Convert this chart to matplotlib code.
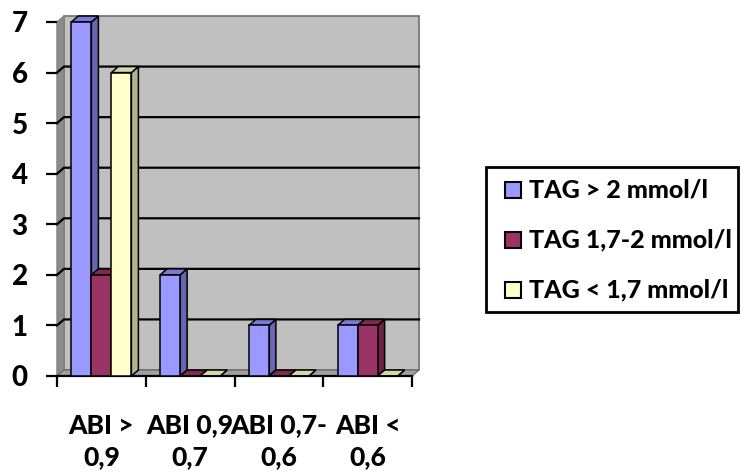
import matplotlib.pyplot as plt
from matplotlib.patches import Rectangle

# ABI groups on the x axis, three TAG series per group
categories = ["ABI >\n0,9", "ABI 0,9\n0,7", "ABI 0,7-\n0,6", "ABI <\n0,6"]
series_names = ["TAG > 2 mmol/l", "TAG 1,7-2 mmol/l", "TAG < 1,7 mmol/l"]
tag_high = [7, 2, 1, 1]
tag_mid = [2, 0, 0, 1]
tag_low = [6, 0, 0, 0]
y_ticks = [0, 1, 2, 3, 4, 5, 6, 7]

front_colors = ["#9999FF", "#993366", "#FFFFCC"]
side_colors = ["#6666B3", "#6B2447", "#B3B38F"]
top_colors = ["#7A7AD6", "#80294F", "#D6D6AB"]

plt.rcParams['font.family'] = ['Lato', 'DejaVu Sans']
WEIGHT = 900

W, H = 743, 474
fig = plt.figure(figsize=(W / 100, H / 100), dpi=100)
ax = fig.add_axes([57 / W, 98 / H, 355 / W, 354 / H])
ax.set_xlim(0, len(categories))
ax.set_ylim(0, 7)

# depth of the pseudo-3D box, in data units
px_x = 355 / len(categories)
px_y = 354 / 7
dx = 7 / px_x
dy = 6 / px_y
ymax = 7
ncat = len(categories)

# back wall, side wall and floor
ax.fill([dx, ncat + dx, ncat + dx, dx], [dy, dy, ymax + dy, ymax + dy],
        color="#C0C0C0", ec="#707070", lw=1.2, zorder=0, clip_on=False)
ax.fill([0, dx, dx, 0], [0, dy, ymax + dy, ymax], color="#8C8C8C",
        ec="#808080", lw=1, zorder=0.5, clip_on=False)
ax.fill([0, ncat, ncat + dx, dx], [0, 0, dy, dy], color="#A0A0A0",
        ec="#6E6E6E", lw=1, zorder=0.5, clip_on=False)
for v in y_ticks[1:-1]:
    ax.plot([0, dx, ncat + dx], [v, v + dy, v + dy], color="black",
            lw=1.6, zorder=0.6, clip_on=False)
ax.plot([0, ncat], [0, 0], color="black", lw=1.6, zorder=0.7, clip_on=False)

# bars: top and side faces first, then the front face
series = [tag_high, tag_mid, tag_low]
bw = 20 / px_x
offset = (1 - 3 * bw) / 2
z = 1
for i in range(ncat):
    for j, vals in enumerate(series):
        x0 = i + offset + j * bw
        h = vals[i]
        ax.fill([x0 + bw, x0 + bw + dx, x0 + bw + dx, x0 + bw],
                [0, dy, h + dy, h], color=side_colors[j], ec="black",
                lw=1.1, zorder=z, clip_on=False)
        ax.fill([x0, x0 + bw, x0 + bw + dx, x0 + dx],
                [h, h, h + dy, h + dy], color=top_colors[j], ec="black",
                lw=1.1, zorder=z, clip_on=False)
        ax.bar(x0, h, width=bw, align="edge", color=front_colors[j],
               edgecolor="black", lw=1.1, zorder=z + 0.5, clip_on=False)
        z += 1

for s in ax.spines.values():
    s.set_visible(False)

ax.set_yticks(y_ticks)
ax.set_yticklabels([str(v) for v in y_ticks], fontsize=20, fontweight=WEIGHT)
ax.tick_params(axis="y", length=8, width=1.6, pad=13, direction="out")

ax.set_xticks(range(ncat + 1))
ax.set_xticklabels([])
ax.tick_params(axis="x", which="major", length=8, width=1.6, direction="out")
ax.set_xticks([i + 0.5 for i in range(ncat)], minor=True)
ax.set_xticklabels(categories, minor=True, fontsize=19, fontweight=WEIGHT,
                   linespacing=1.4)
ax.tick_params(axis="x", which="minor", length=0, pad=27)

# legend box on the right
fig.add_artist(Rectangle((486 / W, 1 - 312 / H), 252 / W, 145 / H,
                         transform=fig.transFigure, fc="white",
                         ec="black", lw=2))
for k, (name, col) in enumerate(zip(series_names, front_colors)):
    yc = 190 + 50 * k
    fig.add_artist(Rectangle((505 / W, 1 - (yc + 8) / H), 16 / W, 16 / H,
                             transform=fig.transFigure, fc=col,
                             ec="black", lw=1.5))
    fig.text(529 / W, 1 - yc / H, name, fontsize=18, fontweight=WEIGHT,
             va="center", ha="left")

fig.savefig("out.png", dpi=100)
